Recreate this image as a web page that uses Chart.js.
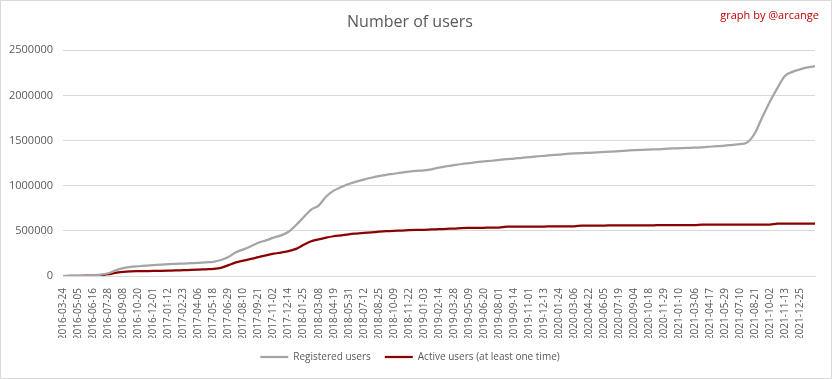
<!DOCTYPE html>
<html>
<head>
<meta charset="utf-8">
<script src="https://cdn.jsdelivr.net/npm/chart.js@4"></script>
<style>
  html, body { margin: 0; padding: 0; background: #fff; }
  #wrap { position: relative; width: 832px; height: 379px; box-sizing: border-box; border: 1px solid #d9d9d9; }
  #credit { position: absolute; right: 12px; top: 6px; font: 11px 'Open Sans', sans-serif; color: #c00000; }
  canvas { display: block; }
</style>
</head>
<body>
<div id="wrap">
  <canvas id="chart" width="830" height="377"></canvas>
  <div id="credit">graph by @arcange</div>
</div>
<script>
  // tick labels (one every 2 data points)
  const tickLabels = [
    '2016-03-24', '2016-05-05', '2016-06-16', '2016-07-28', '2016-09-08', '2016-10-20', '2016-12-01',
    '2017-01-12', '2017-02-23', '2017-04-06', '2017-05-18', '2017-06-29', '2017-08-10', '2017-09-21',
    '2017-11-02', '2017-12-14', '2018-01-25', '2018-03-08', '2018-04-19', '2018-05-31', '2018-07-12',
    '2018-08-25', '2018-10-09', '2018-11-22', '2019-01-03', '2019-02-14', '2019-03-28', '2019-05-09',
    '2019-06-20', '2019-08-01', '2019-09-14', '2019-11-01', '2019-12-13', '2020-01-24', '2020-03-06',
    '2020-04-22', '2020-06-05', '2020-07-19', '2020-09-04', '2020-10-18', '2020-11-29', '2021-01-10',
    '2021-03-06', '2021-04-17', '2021-05-29', '2021-07-10', '2021-08-21', '2021-10-02', '2021-11-13',
    '2021-12-25'
  ];

  const registered = [
    0, 1000, 2000, 4000, 8000, 14000, 30000, 62000, 88000, 100000,
    108000, 115000, 120000, 126000, 131000, 135000, 138000, 142000, 146000, 151000,
    157000, 177000, 210000, 262000, 295000, 330000, 368000, 395000, 425000, 450000,
    490000, 565000, 650000, 735000, 780000, 880000, 945000, 985000, 1018000, 1045000,
    1068000, 1088000, 1105000, 1120000, 1132000, 1145000, 1155000, 1163000, 1169000, 1180000,
    1200000, 1215000, 1228000, 1240000, 1250000, 1260000, 1268000, 1276000, 1285000, 1293000,
    1300000, 1309000, 1316000, 1324000, 1331000, 1338000, 1345000, 1352000, 1357000, 1361000,
    1364000, 1368000, 1373000, 1378000, 1383000, 1388000, 1393000, 1397000, 1400000, 1403000,
    1408000, 1412000, 1415000, 1418000, 1420000, 1425000, 1431000, 1437000, 1443000, 1452000,
    1460000, 1480000, 1580000, 1760000, 1930000, 2080000, 2215000, 2260000, 2288000, 2310000,
    2323000
  ];

  const active = [
    0, 1000, 2000, 3000, 5000, 8000, 20000, 34000, 46000, 52000,
    54000, 55000, 56000, 58000, 60000, 62000, 65000, 67000, 70000, 74000,
    78000, 90000, 120000, 150000, 170000, 190000, 208000, 228000, 247000, 260000,
    275000, 300000, 345000, 385000, 405000, 425000, 440000, 450000, 462000, 470000,
    477000, 483000, 490000, 496000, 500000, 503000, 507000, 510000, 512000, 515000,
    520000, 523000, 525000, 531000, 532000, 533000, 534000, 535000, 536000, 546000,
    546000, 547000, 547000, 548000, 548000, 549000, 549000, 549000, 550000, 558000,
    558000, 559000, 559000, 560000, 560000, 560000, 561000, 561000, 561000, 562000,
    562000, 562000, 563000, 563000, 563000, 568000, 568000, 569000, 569000, 569000,
    570000, 570000, 570000, 570000, 570000, 579000, 579000, 579000, 580000, 580000,
    580000
  ];

  const labels = registered.map((v, i) => (i % 2 === 0 && tickLabels[i / 2]) ? tickLabels[i / 2] : '');

  const textColor = '#595959';
  const gridColor = '#d9d9d9';

  new Chart(document.getElementById('chart'), {
    type: 'line',
    data: {
      labels: labels,
      datasets: [
        {
          label: 'Registered users',
          data: registered,
          borderColor: '#a5a5a5',
          backgroundColor: '#a5a5a5',
          borderWidth: 2.25,
          pointRadius: 0,
          cubicInterpolationMode: 'monotone'
        },
        {
          label: 'Active users (at least one time)',
          data: active,
          borderColor: '#8b0000',
          backgroundColor: '#8b0000',
          borderWidth: 2.25,
          pointRadius: 0,
          cubicInterpolationMode: 'monotone'
        }
      ]
    },
    options: {
      responsive: false,
      animation: false,
      layout: { padding: { left: 0, right: 12, top: 6, bottom: 6 } },
      scales: {
        x: {
          offset: false,
          grid: { display: false },
          border: { display: true, color: gridColor },
          afterFit: scale => { scale.height = 62; },
          ticks: {
            autoSkip: false,
            maxRotation: 90,
            minRotation: 90,
            padding: 4,
            color: textColor,
            font: { family: 'Open Sans', size: 10 },
            callback: function(value) { return this.getLabelForValue(value); }
          }
        },
        y: {
          min: 0,
          max: 2500000,
          afterFit: scale => { scale.width = 62; },
          grid: { color: gridColor, drawTicks: false },
          border: { display: false },
          ticks: {
            stepSize: 500000,
            padding: 10,
            color: textColor,
            font: { family: 'Open Sans', size: 11 },
            callback: value => String(value)
          }
        }
      },
      plugins: {
        title: {
          display: true,
          text: 'Number of users',
          color: textColor,
          font: { family: 'Open Sans', size: 16, weight: 'normal' },
          padding: { top: 6, bottom: 18 }
        },
        legend: {
          position: 'bottom',
          labels: {
            usePointStyle: true,
            pointStyle: 'line',
            pointStyleWidth: 28,
            boxHeight: 10,
            padding: 14,
            color: textColor,
            font: { family: 'Open Sans', size: 10 }
          }
        },
        tooltip: { enabled: false }
      }
    }
  });
</script>
</body>
</html>
